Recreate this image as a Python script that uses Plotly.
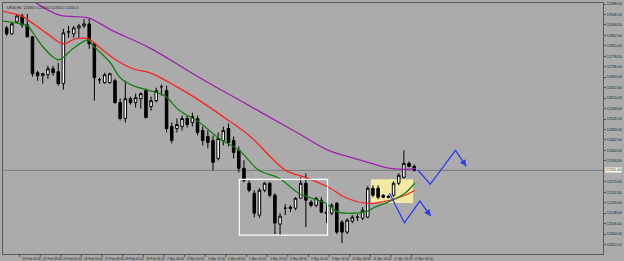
import plotly.graph_objects as go

# ---------------- data ----------------
idx = list(range(80))
opens = [12892,12868,12916,12940,12904,12856,12712,12700,12704,12728,12716,12668,12876,12868,12892,12900,12908,12828,12684,12672,12672,12680,12592,12528,12608,12592,12608,12640,12576,12600,12656,12640,12496,12488,12496,12528,12512,12528,12480,12456,12440,12368,12440,12488,12440,12400,12328,12268,12228,12140,12240,12268,12220,12104,12168,12172,12168,12208,12268,12192,12180,12200,12152,12148,12188,12112,12072,12116,12132,12128,12132,12248,12248,12220,12216,12220,12268,12292,12348,12336]
highs = [12900,12912,12948,12948,12948,12860,12720,12712,12740,12740,12752,12888,12900,12900,12908,12928,12928,12832,12692,12712,12712,12688,12608,12680,12616,12628,12632,12648,12616,12652,12664,12660,12512,12528,12540,12540,12552,12540,12496,12480,12460,12472,12496,12508,12456,12416,12360,12280,12240,12248,12272,12272,12228,12148,12184,12180,12212,12292,12308,12200,12212,12212,12180,12188,12192,12120,12128,12140,12144,12172,12256,12260,12260,12224,12220,12276,12308,12400,12356,12344]
lows = [12860,12864,12912,12892,12856,12696,12680,12668,12688,12700,12660,12644,12852,12852,12852,12892,12808,12600,12668,12668,12668,12588,12520,12512,12584,12572,12568,12528,12560,12592,12620,12472,12428,12472,12480,12492,12496,12460,12420,12408,12320,12360,12420,12416,12368,12312,12272,12232,12132,12128,12232,12212,12064,12060,12140,12152,12160,12208,12092,12172,12172,12148,12108,12140,12064,12028,12064,12108,12116,12120,12128,12212,12204,12208,12208,12212,12260,12288,12332,12316]
closes = [12868,12908,12940,12904,12856,12708,12700,12708,12728,12712,12668,12872,12876,12892,12900,12908,12828,12692,12684,12704,12708,12592,12528,12608,12592,12612,12628,12532,12600,12640,12656,12488,12440,12504,12528,12504,12536,12472,12440,12432,12352,12448,12480,12432,12392,12328,12280,12240,12148,12240,12268,12220,12108,12136,12168,12168,12208,12268,12200,12180,12208,12152,12148,12180,12072,12072,12120,12132,12132,12160,12248,12220,12212,12212,12212,12268,12300,12348,12336,12320]

# moving averages: (candle index, price) points
ma_purple_x = [4.3,10.1,15.8,20.6,27.7,37.4,47.0,56.6,62.4,68.1,72.0,74.5,77.2,79.3]
ma_purple_y = [13012,12944,12932,12880,12812,12692,12580,12468,12400,12364,12340,12328,12324,12328]
ma_red_x = [-1.1,2.75,5.25,7.9,11.0,13.3,15.8,18.1,21.4,24.5,27.7,32.6,37.4,42.2,47.0,54.1,57.9,62.4,65.6,69.5,72.6,77.2,79.1]
ma_red_y = [12960,12940,12908,12868,12828,12848,12848,12812,12760,12728,12712,12660,12600,12532,12460,12320,12292,12252,12212,12188,12192,12220,12240]
ma_green_x = [-1.1,2.75,4.1,5.25,7.2,10.1,12.8,15.8,16.8,20.1,22.0,24.5,27.7,30.6,33.5,37.4,41.2,45.1,48.9,52.8,56.6,58.5,61.8,64.3,67.6,69.5,71.4,73.9,77.2,79.1]
ma_green_y = [12920,12908,12900,12868,12812,12764,12808,12844,12820,12752,12692,12660,12640,12620,12560,12512,12448,12400,12320,12288,12228,12212,12188,12152,12148,12152,12172,12192,12228,12268]

# forecast zig-zags
zig1_x = [79.7, 82.1, 87.0, 89.1]
zig1_y = [12322, 12264, 12400, 12336]
zig2_x = [74.2, 77.1, 80.1, 82.2]
zig2_y = [12228, 12109, 12196, 12136]

# boxes
white_box = dict(x0=45.1, x1=62.2, y0=12060, y1=12284)
yellow_box = dict(x0=70.6, x1=78.8, y0=12189, y1=12284)

current_price = 12320
ytick_vals = [12988,12946,12904,12862,12820,12778,12736,12694,12652,12610,12568,12526,12484,12442,12400,12358,12274,12232,12190,12148,12106,12064,12022]
xlabel_pos = [-1,3,7,11,15,19,23,27,31,35,39,43,47,51,55,59,63,67,71,75,79]
xlabel_txt = ["24 Feb 2020","24 Feb 16:00","25 Feb 08:00","26 Feb 00:00","26 Feb 16:00","27 Feb 08:00","28 Feb 00:00",
              "28 Feb 16:00","2 Mar 08:00","3 Mar 00:00","3 Mar 16:00","4 Mar 08:00","5 Mar 00:00","5 Mar 16:00",
              "6 Mar 08:00","9 Mar 00:00","9 Mar 16:00","10 Mar 08:00","11 Mar 00:00","11 Mar 16:00","12 Mar 08:00"]
title_txt = "DE30,H4  12336.0 12344.0 12316.0 12320.0"

# ---------------- figure ----------------
BG = "#ababab"
FONT = "Liberation Sans"
fig = go.Figure()

fig.add_trace(go.Candlestick(
    x=idx, open=opens, high=highs, low=lows, close=closes,
    increasing=dict(line=dict(color="#000000", width=1), fillcolor="#ffffff"),
    decreasing=dict(line=dict(color="#000000", width=1), fillcolor="#000000"),
    whiskerwidth=0, showlegend=False, hoverinfo="skip"))

fig.add_trace(go.Scatter(x=ma_purple_x, y=ma_purple_y, mode="lines", line=dict(color="#a020b0", width=1.3, shape="spline"), showlegend=False))
fig.add_trace(go.Scatter(x=ma_red_x, y=ma_red_y, mode="lines", line=dict(color="#ff2020", width=1.3, shape="spline"), showlegend=False))
fig.add_trace(go.Scatter(x=ma_green_x, y=ma_green_y, mode="lines", line=dict(color="#108010", width=1.3, shape="spline"), showlegend=False))

for zx, zy in [(zig1_x, zig1_y), (zig2_x, zig2_y)]:
    fig.add_trace(go.Scatter(x=zx, y=zy, mode="lines", line=dict(color="#2a3cf0", width=1.3), showlegend=False))
    fig.add_annotation(x=zx[-1], y=zy[-1], ax=zx[-2] + 0.6 * (zx[-1] - zx[-2]), ay=zy[-2] + 0.6 * (zy[-1] - zy[-2]),
                       xref="x", yref="y", axref="x", ayref="y", text="", showarrow=True,
                       arrowhead=2, arrowsize=1, arrowwidth=1.3, arrowcolor="#2a3cf0")

shapes = []
shapes.append(dict(type="rect", xref="x", yref="y", layer="below", fillcolor="#f3e9a6", line=dict(width=0), **yellow_box))
shapes.append(dict(type="rect", xref="x", yref="y", layer="above", fillcolor="rgba(0,0,0,0)", line=dict(color="#ffffff", width=1.2), **white_box))
shapes.append(dict(type="line", xref="paper", yref="y", x0=0, x1=1, y0=current_price, y1=current_price, line=dict(color="#7a7a7a", width=1), layer="below"))
for p in xlabel_pos:
    shapes.append(dict(type="line", xref="x", yref="paper", x0=p - 0.5, x1=p - 0.5, y0=0, y1=-0.012, line=dict(color="#505050", width=1)))
fig.update_layout(shapes=shapes)

for p, t in zip(xlabel_pos, xlabel_txt):
    fig.add_annotation(x=p - 0.4, y=0, xref="x", yref="paper", yanchor="top", xanchor="left", yshift=-1,
                       text=t, showarrow=False, font=dict(size=3.2, color="#202020", family=FONT))

fig.add_annotation(x=1, y=current_price, xref="paper", yref="y", xanchor="left", xshift=2, text=f"{current_price:.2f}",
                   showarrow=False, bgcolor="#ffffff", font=dict(size=3.6, color="#202020", family=FONT), borderpad=0)
fig.add_annotation(x=0, y=1, xref="paper", yref="paper", xanchor="left", yanchor="top", xshift=2, yshift=-1,
                   text=title_txt, showarrow=False, font=dict(size=3.6, color="#202020", family=FONT))

fig.update_layout(
    width=624, height=261, margin=dict(l=2, r=17, t=2, b=7),
    paper_bgcolor=BG, plot_bgcolor=BG,
    xaxis=dict(range=[-0.71, 115.6], showgrid=False, zeroline=False, showticklabels=False, ticks="",
               showline=True, linecolor="#5a5a5a", linewidth=1, mirror=True, rangeslider=dict(visible=False), fixedrange=True),
    yaxis=dict(range=[11984, 12992], side="right", showgrid=False, zeroline=False, tickvals=ytick_vals, tickformat=".2f",
               ticks="outside", ticklen=2, tickcolor="#505050", tickfont=dict(size=3.6, color="#202020", family=FONT),
               showline=True, linecolor="#5a5a5a", linewidth=1, mirror=True),
)

fig.write_html("out.html")
